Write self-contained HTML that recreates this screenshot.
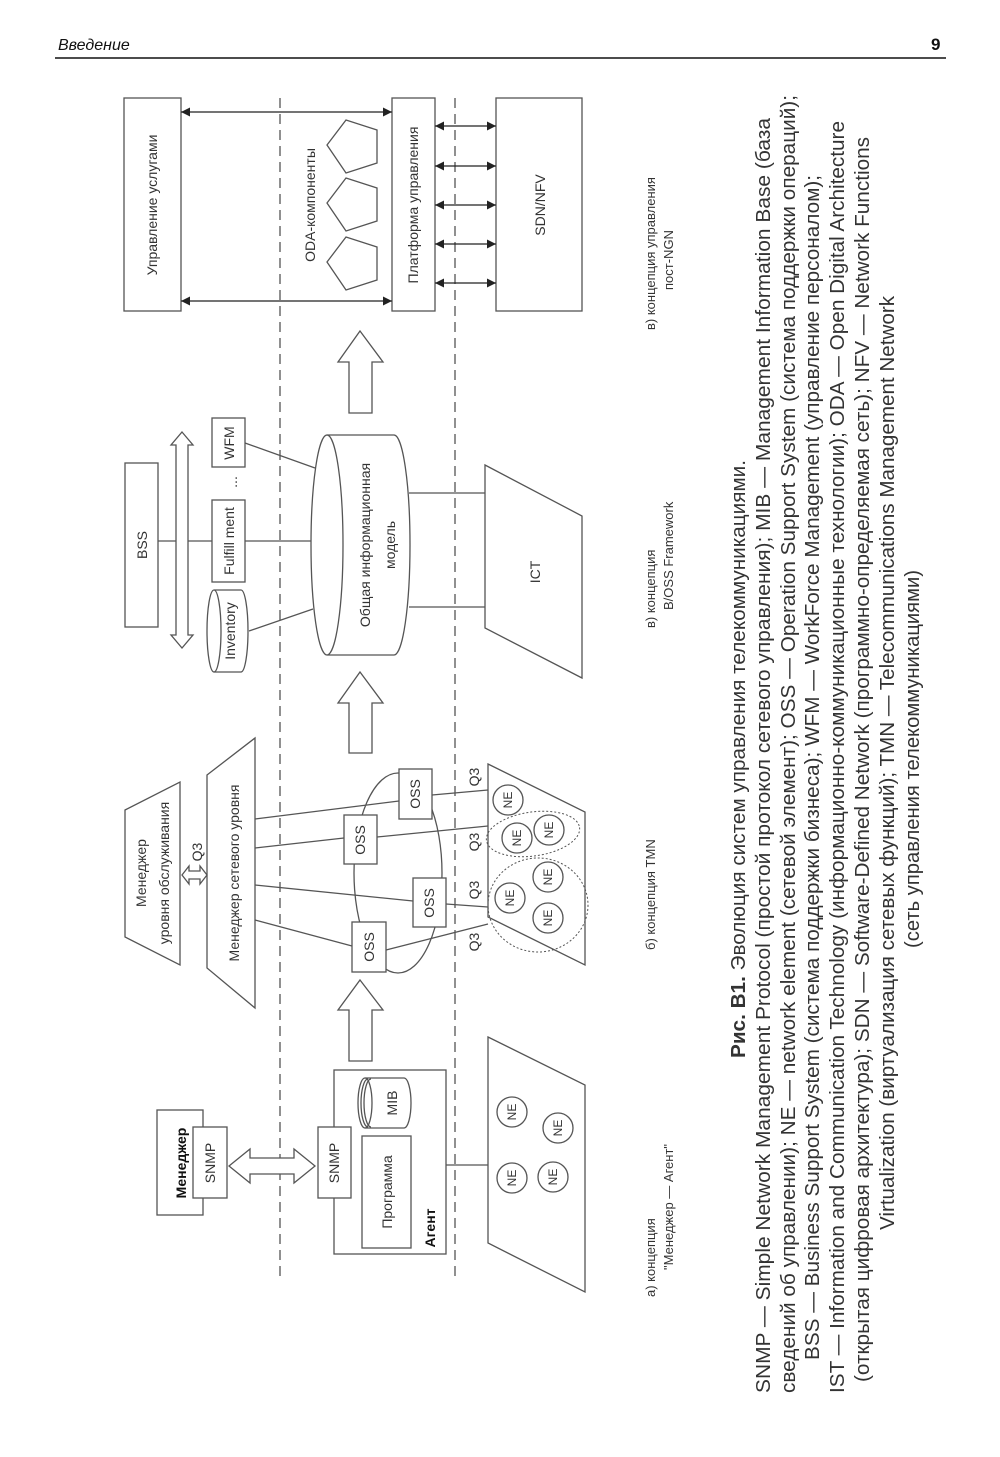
<!DOCTYPE html>
<html><head><meta charset="utf-8"><style>
html,body{margin:0;padding:0;background:#fff}
svg{display:block}
text{font-family:"Liberation Sans","DejaVu Sans",sans-serif;fill:#333}
.d{font-size:14px;fill:#4a4a4a}
.c{font-size:20px;fill:#222}
.ne{font-size:12px}
</style></head><body>
<svg width="1000" height="1457" viewBox="0 0 1000 1457" xmlns="http://www.w3.org/2000/svg">
<defs>
<marker id="ah" viewBox="0 0 10 10" refX="10" refY="5" markerWidth="13" markerHeight="9" markerUnits="userSpaceOnUse" orient="auto-start-reverse"><path d="M0,0 L10,5 L0,10 z" fill="#222"/></marker>
</defs>
<!-- header -->
<text x="58" y="50" style="font-size:16px;font-style:italic;fill:#111">Введение</text>
<text x="931" y="50" style="font-size:17px;font-weight:bold;fill:#111">9</text>
<line x1="55" y1="58" x2="946" y2="58" stroke="#111" stroke-width="1.5"/>

<g fill="none" stroke="#555" stroke-width="1.3">
<!-- dashed separators -->
<line x1="280" y1="98" x2="280" y2="1277" stroke-dasharray="10,6"/>
<line x1="455" y1="98" x2="455" y2="1277" stroke-dasharray="10,6"/>

<!-- a) -->
<rect x="157" y="1110" width="46" height="105" fill="#fff"/>
<rect x="193" y="1127" width="34" height="71" fill="#fff"/>
<polygon points="229,1166 250,1149 250,1158 294,1158 294,1149 315,1166 294,1183 294,1174 250,1174 250,1183" fill="#fff"/>
<rect x="334" y="1070" width="112" height="184" fill="#fff"/>
<rect x="318" y="1127" width="33" height="71" fill="#fff"/>
<rect x="362" y="1136" width="49" height="112"/>
<path d="M365,1078 L404,1078 A7,25 0 0 1 404,1128 L365,1128" fill="#fff"/>
<ellipse cx="365" cy="1103" rx="7" ry="25" fill="#fff"/>
<path d="M368,1079 A7,24 0 0 0 368,1127 M371,1079 A7,24 0 0 0 371,1127"/>
<line x1="446" y1="1165" x2="488" y2="1165"/>
<polygon points="488,1037 585,1085 585,1292 488,1243"/>
<circle cx="512" cy="1112" r="15"/><circle cx="558" cy="1128" r="15"/>
<circle cx="512" cy="1178" r="15"/><circle cx="553" cy="1177" r="15"/>
<polygon points="360,980 383,1010 372,1010 372,1061 349,1061 349,1010 338,1010"/>

<!-- b) -->
<polygon points="125,810 180,782 180,965 125,937"/>
<polygon points="182,875 189,866 189,871 200,871 200,866 207,875 200,884 200,879 189,879 189,884" fill="#fff"/>
<polygon points="207,775 255,738 255,1008 207,968"/>
<ellipse cx="398" cy="873" rx="44" ry="100"/>
<line x1="255" y1="819" x2="399" y2="801"/>
<line x1="255" y1="848" x2="344" y2="838"/>
<line x1="255" y1="885" x2="413" y2="901"/>
<line x1="255" y1="920" x2="352" y2="946"/>
<line x1="432" y1="795" x2="488" y2="790"/>
<line x1="377" y1="837" x2="488" y2="826"/>
<line x1="446" y1="904" x2="488" y2="907"/>
<line x1="386" y1="950" x2="488" y2="924"/>
<rect x="399" y="769" width="33" height="50" fill="#fff"/>
<rect x="344" y="815" width="33" height="49" fill="#fff"/>
<rect x="413" y="878" width="33" height="49" fill="#fff"/>
<rect x="352" y="922" width="34" height="50" fill="#fff"/>
<polygon points="488,764 585,812 585,965 488,917"/>
<circle cx="508" cy="800" r="15"/><circle cx="517" cy="838" r="15"/><circle cx="549" cy="830" r="15"/>
<circle cx="510" cy="898" r="15"/><circle cx="548" cy="877" r="15"/><circle cx="548" cy="918" r="15"/>
<ellipse cx="533" cy="834" rx="47" ry="22" transform="rotate(-8 533 834)" stroke-dasharray="2,2" stroke-width="1"/>
<ellipse cx="538" cy="905" rx="50" ry="47" stroke-dasharray="2,2" stroke-width="1"/>
<polygon points="360,672 383,703 372,703 372,753 349,753 349,703 338,703"/>

<!-- c) -->
<rect x="125" y="463" width="33" height="164"/>
<line x1="158" y1="541" x2="212" y2="541"/>
<line x1="245" y1="541" x2="311" y2="541"/>
<polygon points="182,432 193,445 188,445 188,635 193,635 182,648 171,635 176,635 176,445 171,445" fill="#fff"/>
<rect x="212" y="500" width="33" height="82" fill="#fff"/>
<rect x="212" y="418" width="33" height="49" fill="#fff"/>
<path d="M214,590 L241,590 A7,41 0 0 1 241,672 L214,672" fill="#fff"/>
<ellipse cx="214" cy="631" rx="7" ry="41" fill="#fff"/>
<line x1="249" y1="631" x2="313" y2="609"/>
<line x1="245" y1="443" x2="315" y2="468"/>
<path d="M327,435 L394,435 A16,110 0 0 1 394,655 L327,655" fill="#fff"/>
<ellipse cx="327" cy="545" rx="16" ry="110" fill="#fff"/>
<line x1="409" y1="493" x2="485" y2="493"/>
<line x1="409" y1="607" x2="485" y2="607"/>
<polygon points="485,465 582,516 582,678 485,628"/>
<polygon points="360,331 383,362 372,362 372,413 349,413 349,362 338,362"/>

<!-- d) -->
<rect x="124" y="98" width="57" height="213"/>
<rect x="392" y="98" width="43" height="213"/>
<rect x="496" y="98" width="86" height="213"/>
<g stroke="#222" stroke-width="1.2">
<line x1="181" y1="112" x2="392" y2="112" marker-start="url(#ah)" marker-end="url(#ah)"/>
<line x1="181" y1="301" x2="392" y2="301" marker-start="url(#ah)" marker-end="url(#ah)"/>
<line x1="435" y1="126" x2="496" y2="126" marker-start="url(#ah)" marker-end="url(#ah)"/>
<line x1="435" y1="166" x2="496" y2="166" marker-start="url(#ah)" marker-end="url(#ah)"/>
<line x1="435" y1="205" x2="496" y2="205" marker-start="url(#ah)" marker-end="url(#ah)"/>
<line x1="435" y1="244" x2="496" y2="244" marker-start="url(#ah)" marker-end="url(#ah)"/>
<line x1="435" y1="283" x2="496" y2="283" marker-start="url(#ah)" marker-end="url(#ah)"/>
</g>
<polygon points="327,145 346,120 377,130 377,163 346,173"/>
<polygon points="327,203 346,178 377,188 377,221 346,231"/>
<polygon points="327,262 346,237 377,247 377,280 346,290"/>
</g>

<!-- diagram labels -->
<g class="d" text-anchor="middle" dominant-baseline="central">
<text transform="translate(181,1163) rotate(-90)" style="font-weight:bold;fill:#111">Менеджер</text>
<text transform="translate(210,1163) rotate(-90)">SNMP</text>
<text transform="translate(334,1163) rotate(-90)">SNMP</text>
<text transform="translate(392,1103) rotate(-90)">MIB</text>
<text transform="translate(387,1192) rotate(-90)">Программа</text>
<text transform="translate(430,1228) rotate(-90)" style="font-weight:bold;fill:#111">Агент</text>
<text class="ne" transform="translate(512,1112) rotate(-90)">NE</text>
<text class="ne" transform="translate(558,1128) rotate(-90)">NE</text>
<text class="ne" transform="translate(512,1178) rotate(-90)">NE</text>
<text class="ne" transform="translate(553,1177) rotate(-90)">NE</text>

<text transform="translate(141,873) rotate(-90)">Менеджер</text>
<text transform="translate(164,873) rotate(-90)">уровня обслуживания</text>
<text transform="translate(197,852) rotate(-90)">Q3</text>
<text transform="translate(234,873) rotate(-90)">Менеджер сетевого уровня</text>
<text transform="translate(415,794) rotate(-90)">OSS</text>
<text transform="translate(360,840) rotate(-90)">OSS</text>
<text transform="translate(429,903) rotate(-90)">OSS</text>
<text transform="translate(369,947) rotate(-90)">OSS</text>
<text transform="translate(474,777) rotate(-90)">Q3</text>
<text transform="translate(474,842) rotate(-90)">Q3</text>
<text transform="translate(474,890) rotate(-90)">Q3</text>
<text transform="translate(474,942) rotate(-90)">Q3</text>
<text class="ne" transform="translate(508,800) rotate(-90)">NE</text>
<text class="ne" transform="translate(517,838) rotate(-90)">NE</text>
<text class="ne" transform="translate(549,830) rotate(-90)">NE</text>
<text class="ne" transform="translate(510,898) rotate(-90)">NE</text>
<text class="ne" transform="translate(548,877) rotate(-90)">NE</text>
<text class="ne" transform="translate(548,918) rotate(-90)">NE</text>

<text transform="translate(142,545) rotate(-90)">BSS</text>
<text transform="translate(229,541) rotate(-90)">Fulfill ment</text>
<text transform="translate(232,482) rotate(-90)">...</text>
<text transform="translate(229,443) rotate(-90)">WFM</text>
<text transform="translate(230,631) rotate(-90)">Inventory</text>
<text transform="translate(365,545) rotate(-90)">Общая информационная</text>
<text transform="translate(390,545) rotate(-90)">модель</text>
<text transform="translate(535,572) rotate(-90)">ICT</text>

<text transform="translate(152,205) rotate(-90)">Управление услугами</text>
<text transform="translate(413,205) rotate(-90)">Платформа управления</text>
<text transform="translate(540,205) rotate(-90)">SDN/NFV</text>
<text transform="translate(310,205) rotate(-90)">ODA-компоненты</text>
</g>

<!-- sub labels -->
<g class="d" style="font-size:13px">
<text transform="translate(655,1297) rotate(-90)">а) концепция</text>
<text transform="translate(673,1270) rotate(-90)">"Менеджер — Агент"</text>
<text transform="translate(655,950) rotate(-90)">б) концепция TMN</text>
<text transform="translate(655,628) rotate(-90)">в) концепция</text>
<text transform="translate(673,610) rotate(-90)">B/OSS Framework</text>
<text transform="translate(655,330) rotate(-90)">в) концепция управления</text>
<text transform="translate(673,290) rotate(-90)">пост-NGN</text>
</g>

<!-- caption -->
<g class="c">
<text transform="translate(745,1058) rotate(-90)" textLength="598" lengthAdjust="spacingAndGlyphs"><tspan style="font-weight:bold">Рис. В1.</tspan> Эволюция систем управления телекоммуникациями.</text>
<text transform="translate(770,1393) rotate(-90)" textLength="1275" lengthAdjust="spacingAndGlyphs">SNMP — Simple Network Management Protocol (простой протокол сетевого управления); MIB — Management Information Base (база</text>
<text transform="translate(795,1393) rotate(-90)" textLength="1298" lengthAdjust="spacingAndGlyphs">сведений об управлении); NE — network element (сетевой элемент); OSS — Operation Support System (система поддержки операций);</text>
<text transform="translate(819,1360) rotate(-90)" textLength="1185" lengthAdjust="spacingAndGlyphs">BSS — Business Support System (система поддержки бизнеса); WFM — WorkForce Management (управление персоналом);</text>
<text transform="translate(844,1393) rotate(-90)" textLength="1272" lengthAdjust="spacingAndGlyphs">IST — Information and Communication Technology (информационно-коммуникационные технологии); ODA — Open Digital Architecture</text>
<text transform="translate(869,1382) rotate(-90)" textLength="1245" lengthAdjust="spacingAndGlyphs">(открытая цифровая архитектура); SDN — Software-Defined Network (программно-определяемая сеть); NFV — Network Functions</text>
<text transform="translate(894,1230) rotate(-90)" textLength="934" lengthAdjust="spacingAndGlyphs">Virtualization (виртуализация сетевых функций); TMN — Telecommunications Management Network</text>
<text transform="translate(919,948) rotate(-90)" textLength="378" lengthAdjust="spacingAndGlyphs">(сеть управления телекоммуникациями)</text>
</g>
</svg>
</body></html>
